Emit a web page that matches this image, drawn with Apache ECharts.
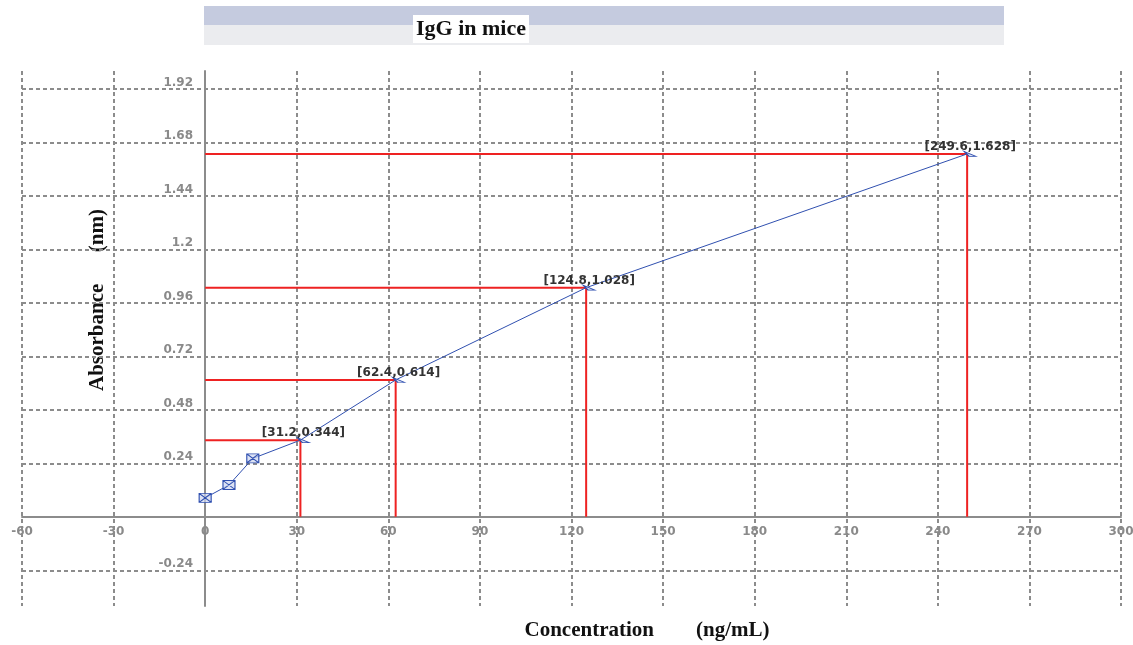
<!DOCTYPE html>
<html>
<head>
<meta charset="utf-8">
<title>IgG in mice</title>
<script src="https://cdn.jsdelivr.net/npm/echarts@6/dist/echarts.min.js"></script>
<style>
  html, body { margin: 0; padding: 0; background: #fff; }
  #igGChart { width: 1133px; height: 645px; }
</style>
</head>
<body>
<div id="igGChart"></div>
<script>
// standard curve points (ng/mL, absorbance)
const concentration = [0, 7.8, 15.6, 31.2, 62.4, 124.8, 249.6];
const absorbance = [0.085, 0.143, 0.262, 0.344, 0.614, 1.028, 1.628];
// points that get red guide lines and a [x,y] label
const markedConc = [31.2, 62.4, 124.8, 249.6];
const markedAbs = [0.344, 0.614, 1.028, 1.628];

const yTickValues = [-0.24, 0, 0.24, 0.48, 0.72, 0.96, 1.2, 1.44, 1.68, 1.92];
const yLabelValues = [-0.24, 0.24, 0.48, 0.72, 0.96, 1.2, 1.44, 1.68, 1.92];

const envelope = 'path://M0,0 H12 V9 H0 Z M0,0 L12,9 M12,0 L0,9';
const arrowHead = 'path://M0,0 L12,5 L5,5 Z';

let chart = echarts.init(document.getElementById('igGChart'));

let gridLine = {
  show: true,
  lineStyle: { color: '#8c8c8c', width: 2, type: [4, 3] }
};
let tickFont = {
  color: '#8a8a8a',
  fontFamily: 'DejaVu Sans',
  fontWeight: 'bold',
  fontSize: 12
};

let guideSeries = markedConc.map((c, i) => ({
  type: 'line',
  data: [[0, markedAbs[i]], [c, markedAbs[i]], [c, 0]],
  symbol: 'none',
  silent: true,
  lineStyle: { color: '#ee2222', width: 2 },
  z: 3
}));

let curveData = concentration.map((c, i) => {
  let marked = markedConc.indexOf(c) >= 0;
  return {
    value: [c, absorbance[i]],
    symbol: marked ? arrowHead : envelope,
    symbolSize: marked ? [12, 5] : [12, 9],
    symbolOffset: marked ? [3, 0] : [0, 0],
    label: {
      show: marked,
      position: 'top',
      distance: -2,
      formatter: '[' + c + ',' + absorbance[i] + ']',
      color: '#333',
      fontFamily: 'DejaVu Sans',
      fontWeight: 'bold',
      fontSize: 12
    }
  };
});

chart.setOption({
  animation: false,
  backgroundColor: '#fff',
  title: {
    text: 'IgG in mice',
    left: 413,
    top: 15,
    padding: [3, 3],
    backgroundColor: '#fff',
    textStyle: {
      fontFamily: 'Liberation Serif',
      fontWeight: 'bold',
      fontSize: 22,
      color: '#111'
    }
  },
  graphic: [
    { type: 'rect', z: -1, shape: { x: 204, y: 6, width: 800, height: 19 }, style: { fill: '#c5cbdf' } },
    { type: 'rect', z: -1, shape: { x: 204, y: 25, width: 800, height: 20 }, style: { fill: '#ebecef' } },
    {
      type: 'text',
      x: 98,
      y: 300,
      rotation: Math.PI / 2,
      style: {
        text: 'Absorbance      (nm)',
        align: 'center',
        verticalAlign: 'middle',
        font: 'bold 21px "Liberation Serif"',
        fill: '#111'
      }
    },
    {
      type: 'text',
      x: 647,
      y: 631,
      style: {
        text: 'Concentration        (ng/mL)',
        align: 'center',
        verticalAlign: 'middle',
        font: 'bold 21px "Liberation Serif"',
        fill: '#111'
      }
    }
  ],
  grid: { left: 22, right: 12, top: 71, bottom: 39, containLabel: false, outerBoundsMode: 'none' },
  xAxis: {
    type: 'value',
    min: -60,
    max: 300,
    interval: 30,
    axisLine: { onZero: true, lineStyle: { color: '#8c8c8c', width: 2 } },
    axisTick: { show: false },
    // labels sit under the zero line, not at the grid bottom
    axisLabel: Object.assign({ margin: -80, showMinLabel: true, showMaxLabel: true }, tickFont),
    splitLine: gridLine
  },
  yAxis: {
    type: 'value',
    min: -0.4,
    max: 2.0,
    axisLine: { onZero: true, lineStyle: { color: '#8c8c8c', width: 2 } },
    axisTick: { show: false, customValues: yTickValues },
    axisLabel: Object.assign({
      margin: -171,
      verticalAlign: 'bottom',
      customValues: yLabelValues
    }, tickFont),
    splitLine: gridLine
  },
  series: guideSeries.concat([
    {
      type: 'line',
      data: curveData,
      lineStyle: { color: '#3050b0', width: 1 },
      itemStyle: { color: 'rgba(205,214,240,0.7)', borderColor: '#3050b0', borderWidth: 1 },
      showAllSymbol: true,
      z: 4
    }
  ])
});

window.addEventListener('resize', () => {
  chart.resize();
});
</script>
</body>
</html>
